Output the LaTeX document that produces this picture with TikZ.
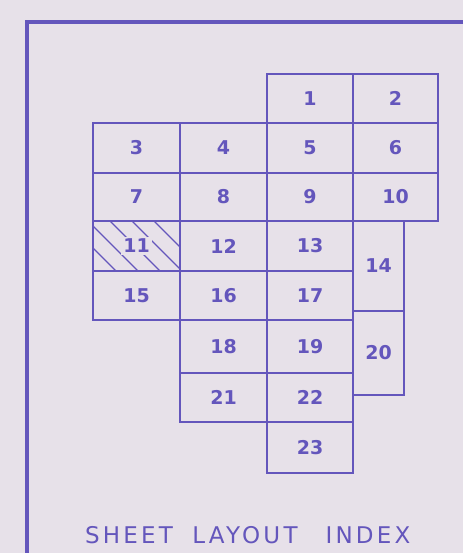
\documentclass[tikz,border=0pt]{standalone}
\usepackage{fontspec}
\setmainfont{DejaVu Sans}
\usepackage{tikz}

\definecolor{paper}{RGB}{231,225,233}
\definecolor{ink}{RGB}{100,86,188}

\tikzset{
  cell/.style={draw=ink, line width=1.3pt},
  cellnum/.style={text=ink, font=\bfseries\fontsize{9.5}{9.5}\selectfont, inner sep=1pt},
  hatch/.style={draw=ink, line width=0.7pt},
  title/.style={text=ink, font=\fontsize{11.5}{11.5}\selectfont\addfontfeatures{LetterSpace=14}}
}

\begin{document}
\begin{tikzpicture}[x=0.5pt, y=-0.5pt]
  \fill[paper] (0,0) rectangle (463,553);
  \useasboundingbox (0,0) rectangle (463,553);

  % frame
  \coordinate (frameTR) at (463,22);
  \coordinate (frameTL) at (27,22);
  \coordinate (frameBL) at (27,553);
  \draw[ink, line width=1.6pt] (frameTR) -- (frameTL) -- (frameBL);

  % hatching of sheet 11
  \begin{scope}
    \clip (93,221) rectangle (180,271);
    \foreach \c in {-155,-133,-111,-89,-67}
      \draw[hatch] ({221+\c},221) -- ({271+\c},271);
  \end{scope}

  % sheets: number / left / top / right / bottom
  \foreach \n/\xa/\ya/\xb/\yb in {
      1/267/74/353/123, 2/353/74/438/123,
      3/93/123/180/173, 4/180/123/267/173, 5/267/123/353/173, 6/353/123/438/173,
      7/93/173/180/221, 8/180/173/267/221, 9/267/173/353/221, 10/353/173/438/221,
      11/93/221/180/271, 12/180/221/267/271, 13/267/221/353/271,
      14/353/221/404/311,
      15/93/271/180/320, 16/180/271/267/320, 17/267/271/353/320,
      18/180/320/267/373, 19/267/320/353/373,
      20/353/311/404/395,
      21/180/373/267/422, 22/267/373/353/422,
      23/267/422/353/473}
  {
    \draw[cell] (\xa,\ya) rectangle (\xb,\yb);
    \node[cellnum] (s\n) at ({(\xa+\xb)/2},{(\ya+\yb)/2}) {\n};
  }
  \node[cellnum, fill=paper] at (s11) {11};

  % title
  \node[title] (sheet) at (129,535) {SHEET};
  \node[title] (layout) at (245,535) {LAYOUT};
  \node[title] (index) at (368,535) {INDEX};
\end{tikzpicture}
\end{document}
